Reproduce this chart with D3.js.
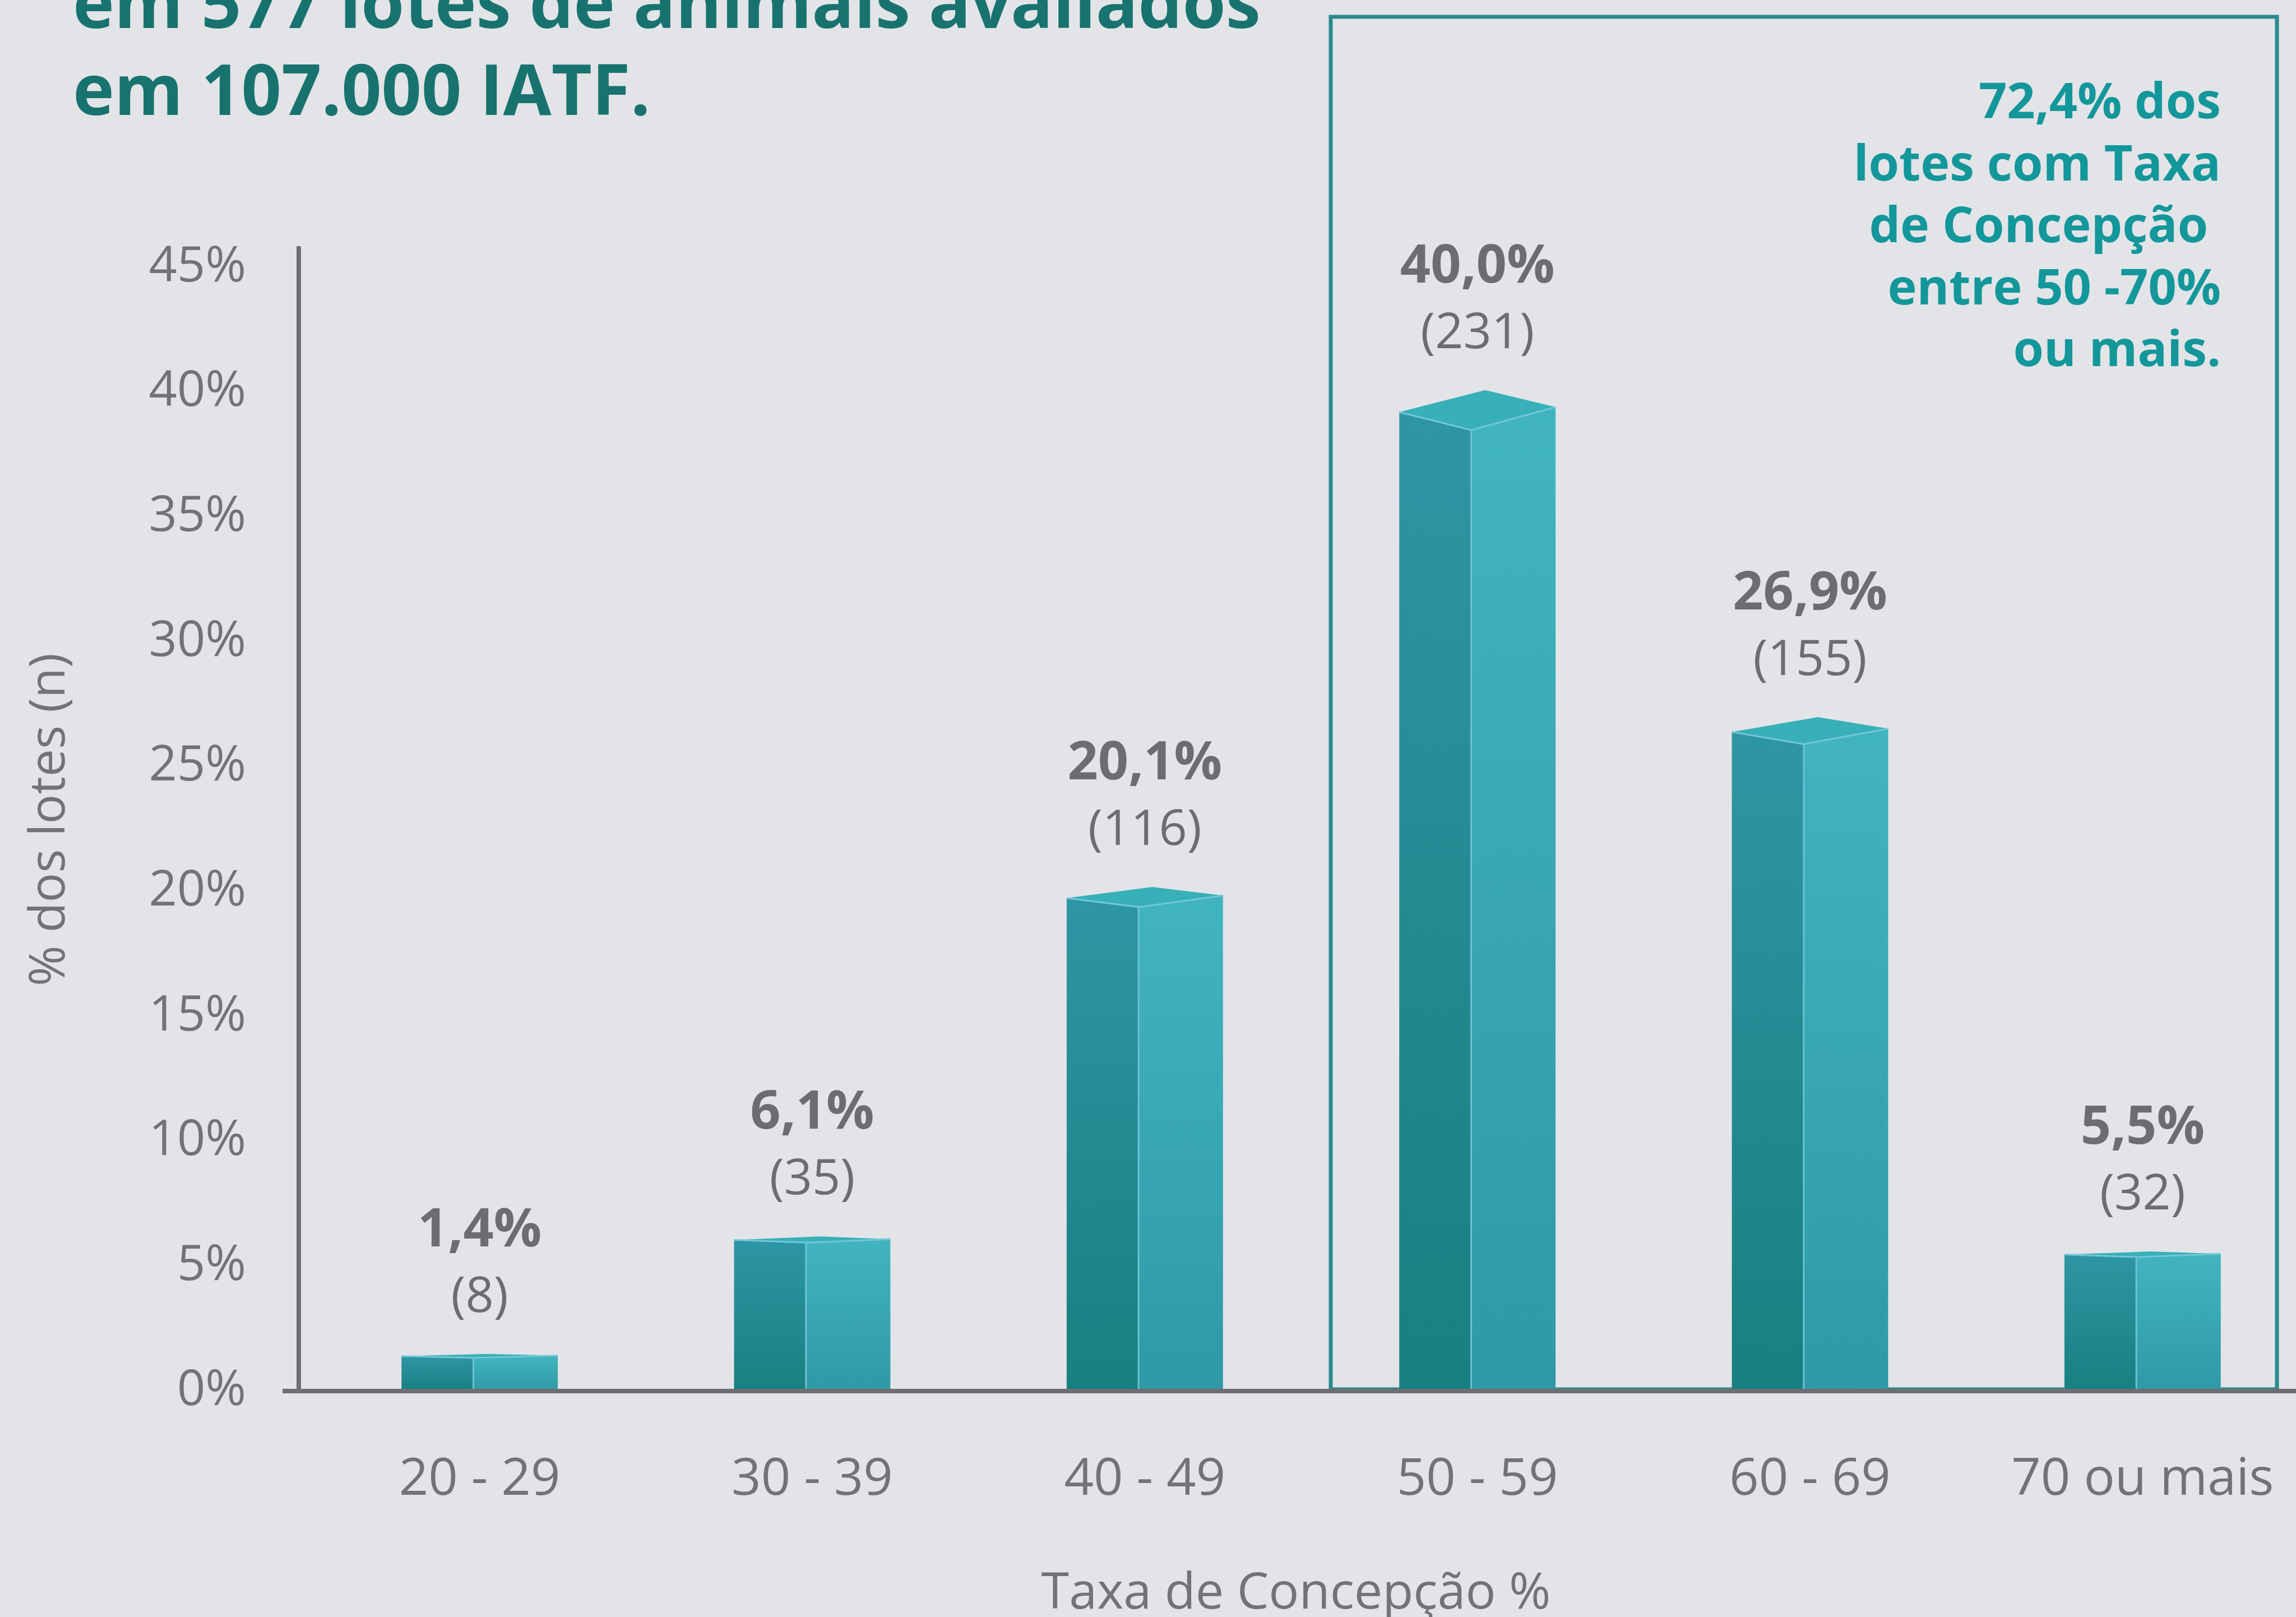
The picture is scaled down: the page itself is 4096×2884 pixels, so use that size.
<!DOCTYPE html>
<html>
<head>
<meta charset="utf-8">
<script src="https://cdn.jsdelivr.net/npm/d3@7"></script>
<style>
  body { margin: 0; background: #e3e4e8; }
  svg { display: block; font-family: "Open Sans", sans-serif; }
</style>
</head>
<body>
<svg width="4096" height="2884"></svg>
<script>
// data
const categories = ["20 - 29", "30 - 39", "40 - 49", "50 - 59", "60 - 69", "70 ou mais"];
const percentages = [1.4, 6.1, 20.1, 40.0, 26.9, 5.5];
const counts = [8, 35, 116, 231, 155, 32];
const yTicks = [0, 5, 10, 15, 20, 25, 30, 35, 40, 45];
const titleLines = ["em 577 lotes de animais avaliados", "em 107.000 IATF."];
const noteLines = ["72,4% dos", "lotes com Taxa", "de Concepção ", "entre 50 -70%", "ou mais."];
const yTitle = "% dos lotes (n)";
const xTitle = "Taxa de Concepção %";

const svg = d3.select("svg");
const width = +svg.attr("width");
const height = +svg.attr("height");

const grey = "#727277";
const base = 2481;

const data = categories.map((c, i) => ({ cat: c, pct: percentages[i], n: counts[i] }));

const x = d3.scaleBand().domain(categories).range([559, 4119])
    .paddingInner(0.53).paddingOuter(0.265);
const y = d3.scaleLinear().domain([0, 45]).range([2477, 473]);

const fmt = v => d3.format(".1f")(v).replace(".", ",") + "%";

svg.append("rect").attr("width", width).attr("height", height).attr("fill", "#e3e4e8");

// gradients
const defs = svg.append("defs");
function grad(id, top, bottom) {
  const g = defs.append("linearGradient").attr("id", id)
      .attr("x1", 0).attr("y1", 0).attr("x2", 0).attr("y2", 1);
  g.append("stop").attr("offset", 0).attr("stop-color", top);
  g.append("stop").attr("offset", 1).attr("stop-color", bottom);
}
grad("leftFace", "#2e96a3", "#178080");
grad("rightFace", "#41b5bf", "#2f99a6");

// title
svg.append("g").selectAll("text").data(titleLines).enter().append("text")
    .attr("x", 130)
    .attr("y", (d, i) => 50 + i * 155)
    .attr("font-size", 125)
    .attr("font-weight", 700)
    .attr("fill", "#18736f")
    .text(d => d);

// highlight box
svg.append("rect")
    .attr("x", 2374).attr("y", 30)
    .attr("width", 4062 - 2374).attr("height", base - 3 - 30)
    .attr("fill", "none")
    .attr("stroke", "#2a8a8e")
    .attr("stroke-width", 7);

svg.append("g").selectAll("text").data(noteLines).enter().append("text")
    .attr("x", 3962)
    .attr("y", (d, i) => 211 + i * 110.5)
    .attr("text-anchor", "end")
    .attr("font-size", 88)
    .attr("font-weight", 700)
    .attr("fill", "#13979b")
    .style("white-space", "pre")
    .text(d => d);

// y axis
const yAxis = svg.append("g")
    .attr("transform", "translate(533,0)")
    .call(d3.axisLeft(y).tickValues(yTicks).tickSize(0).tickPadding(94)
      .tickFormat(d => d + "%"));
yAxis.select(".domain").remove();
yAxis.selectAll("text").attr("font-size", 88).attr("fill", grey)
    .attr("font-family", "Open Sans");

svg.append("line")
    .attr("x1", 533).attr("x2", 533).attr("y1", 439).attr("y2", base + 4)
    .attr("stroke", "#6e6e73").attr("stroke-width", 8);

// bars
const bars = svg.append("g").selectAll("g").data(data).enter().append("g");

bars.each(function(d) {
  const g = d3.select(this);
  const x0 = x(d.cat);
  const w = x.bandwidth();
  const x1 = x0 + w;
  const xd = x0 + w * 0.46;
  const apex = y(d.pct);
  const h = base - apex;
  const depth = Math.max(7, h * 0.04);
  const yl = apex + Math.max(4, h * 0.022);
  const yr = apex + Math.max(3, h * 0.017);
  const yf = apex + depth;
  const xa = xd + w * 0.09;

  g.append("path")
      .attr("d", `M${x0},${yl} L${xd},${yf} L${xd},${base} L${x0},${base} Z`)
      .attr("fill", "url(#leftFace)");
  g.append("path")
      .attr("d", `M${xd},${yf} L${x1},${yr} L${x1},${base} L${xd},${base} Z`)
      .attr("fill", "url(#rightFace)");
  g.append("path")
      .attr("d", `M${x0},${yl} L${xa},${apex} L${x1},${yr} L${xd},${yf} Z`)
      .attr("fill", "#37b0b7");
  // highlight edges
  g.append("path")
      .attr("d", `M${x0},${yl} L${xd},${yf} L${x1},${yr}`)
      .attr("fill", "none").attr("stroke", "#74c6da").attr("stroke-width", 3);
  g.append("line")
      .attr("x1", xd).attr("x2", xd).attr("y1", yf).attr("y2", base)
      .attr("stroke", "#6fc0d6").attr("stroke-width", 3);

  const cx = x0 + w / 2;
  g.append("text")
      .attr("x", cx).attr("y", apex - 75)
      .attr("text-anchor", "middle")
      .attr("font-size", 88).attr("fill", "#6c6c71")
      .text("(" + d.n + ")");
  g.append("text")
      .attr("x", cx).attr("y", apex - 75 - 117)
      .attr("text-anchor", "middle")
      .attr("font-size", 95).attr("font-weight", 700).attr("fill", "#6c6c71")
      .text(fmt(d.pct));
});

// x axis
const xAxis = svg.append("g")
    .attr("transform", "translate(0," + base + ")")
    .call(d3.axisBottom(x).tickSize(0).tickPadding(120));
xAxis.select(".domain").remove();
xAxis.selectAll("text").attr("font-size", 92).attr("fill", grey)
    .attr("font-family", "Open Sans");

svg.append("line")
    .attr("x1", 504).attr("x2", width).attr("y1", base).attr("y2", base)
    .attr("stroke", "#6e6e73").attr("stroke-width", 8);

// axis titles
svg.append("text")
    .attr("x", 2312).attr("y", 2869)
    .attr("text-anchor", "middle")
    .attr("font-size", 90).attr("fill", grey)
    .text(xTitle);

svg.append("text")
    .attr("transform", "translate(115,1462) rotate(-90)")
    .attr("text-anchor", "middle")
    .attr("font-size", 88).attr("fill", grey)
    .text(yTitle);
</script>
</body>
</html>
